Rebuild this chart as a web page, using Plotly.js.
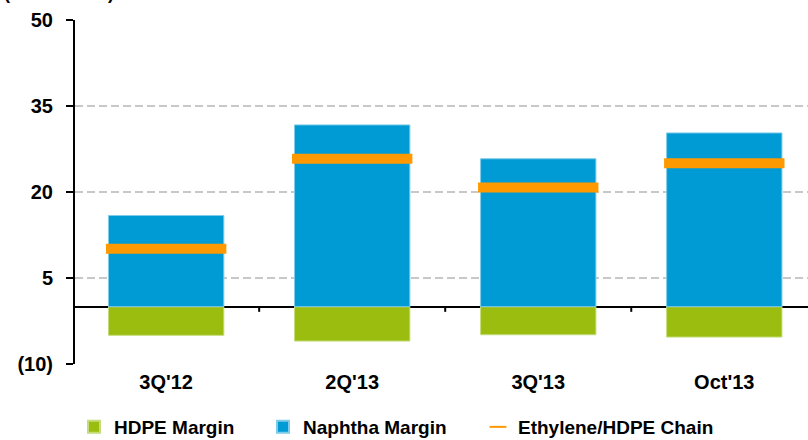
<!DOCTYPE html>
<html>
<head>
<meta charset="utf-8">
<script src="https://cdn.plot.ly/plotly-3.0.1.min.js"></script>
<style>html,body{margin:0;padding:0;background:#fff;}#chart{width:808px;height:440px;}</style>
</head>
<body>
<div id="chart"></div>
<script>
var categories = ["3Q'12", "2Q'13", "3Q'13", "Oct'13"];
var hdpeMargin = [-5.0, -6.0, -4.9, -5.3];
var naphthaMargin = [15.9, 31.7, 25.8, 30.3];
var chainMargin = [10.1, 25.8, 20.8, 25.0];
var yTickVals = [-10, 5, 20, 35, 50];
var yTickText = ["(10)", "5", "20", "35", "50"];
var boundaryTicks = [0.5, 1.5, 2.5];

var FONT = "Liberation Sans, Arial, sans-serif";
var xIdx = categories.map(function (c, i) { return i; });

var traces = [
  {
    type: "bar", name: "HDPE Margin", x: xIdx, y: hdpeMargin, width: 0.62,
    marker: { color: "#9BBD10", line: { color: "#C4DC7A", width: 1 } },
    hoverinfo: "skip", legend: "legend"
  },
  {
    type: "bar", name: "Naphtha Margin", x: xIdx, y: naphthaMargin, width: 0.62,
    marker: { color: "#009BD4", line: { color: "#7FCBEA", width: 1 } },
    hoverinfo: "skip", legend: "legend2"
  },
  {
    type: "scatter", mode: "markers", name: "Ethylene/HDPE Chain", x: xIdx, y: chainMargin,
    marker: { symbol: "line-ew", size: 86, color: "#FF9900", line: { color: "#FF9900", width: 10 } },
    hoverinfo: "skip", legend: "legend3"
  }
];

var shapes = boundaryTicks.map(function (b) {
  return { type: "line", xref: "x", yref: "y", x0: b, x1: b, y0: 0, y1: -0.9,
           line: { color: "#000", width: 2 }, layer: "above" };
});

function legendAt(xpx) {
  return {
    orientation: "h", x: xpx / 808, xanchor: "left", xref: "container",
    y: 13 / 440, yanchor: "middle", yref: "container",
    itemsizing: "constant", itemwidth: 30,
    font: { family: FONT, size: 19, color: "#000", weight: "bold" },
    bgcolor: "rgba(0,0,0,0)"
  };
}

var layout = {
  width: 808, height: 440,
  margin: { l: 75, r: 0, t: 20, b: 76 },
  paper_bgcolor: "#fff", plot_bgcolor: "#fff",
  barmode: "relative",
  showlegend: true,
  font: { family: FONT, color: "#000" },
  xaxis: {
    range: [-0.49, 3.45],
    tickmode: "array", tickvals: xIdx, ticktext: categories,
    ticks: "", showgrid: false, zeroline: false, showline: false,
    ticklabelstandoff: 4,
    tickfont: { family: FONT, size: 20, color: "#000", weight: "bold" },
    fixedrange: true
  },
  yaxis: {
    range: [-10, 50],
    tickmode: "array", tickvals: yTickVals, ticktext: yTickText,
    ticks: "outside", ticklen: 7, tickwidth: 2, tickcolor: "#000",
    showline: true, linecolor: "#000", linewidth: 2,
    showgrid: true, gridcolor: "#C8C8C8", gridwidth: 2, griddash: "8px,4px",
    zeroline: true, zerolinecolor: "#000", zerolinewidth: 2,
    ticklabelstandoff: 9,
    tickfont: { family: FONT, size: 20, color: "#000", weight: "bold" },
    fixedrange: true
  },
  legend: legendAt(74),
  legend2: legendAt(263),
  legend3: legendAt(478),
  shapes: shapes,
  annotations: [
    { text: "(US cents/lb)", xref: "paper", yref: "paper", x: -0.1, xanchor: "left",
      y: 1 + 15 / 344, yanchor: "bottom", showarrow: false,
      font: { family: FONT, size: 18, color: "#000", weight: "bold" } }
  ]
};

Plotly.newPlot("chart", traces, layout, { displayModeBar: false, staticPlot: true });
</script>
</body>
</html>
